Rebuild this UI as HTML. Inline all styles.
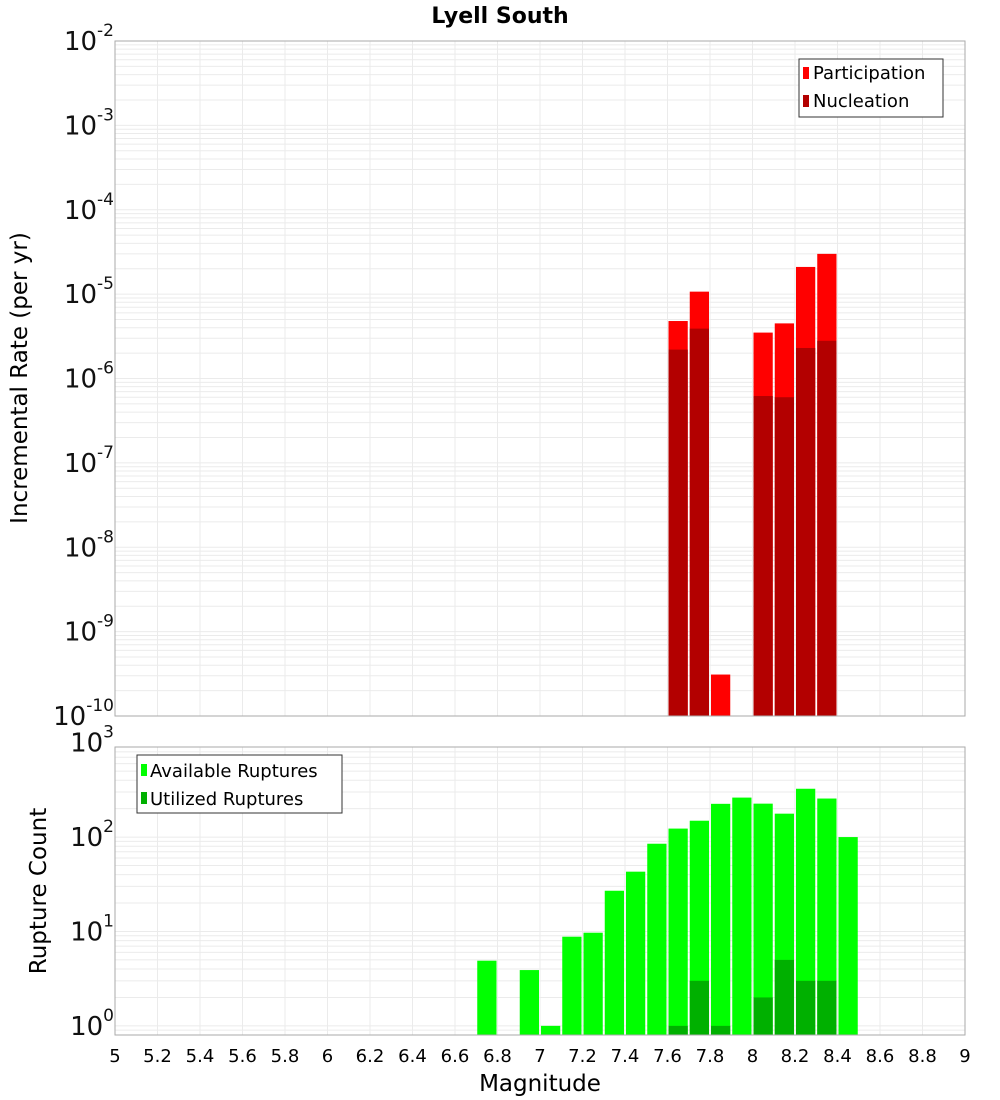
<!DOCTYPE html>
<html><head><meta charset="utf-8"><style>
body{margin:0;background:#fff;font-family:"Liberation Sans","DejaVu Sans",sans-serif}
svg{display:block}
</style></head><body>
<svg id="c" width="1000" height="1100" xmlns="http://www.w3.org/2000/svg" font-family="DejaVu Sans, Liberation Sans, sans-serif"></svg>
<script>
const bins=[6.75,6.85,6.95,7.05,7.15,7.25,7.35,7.45,7.55,7.65,7.75,7.85,7.95,8.05,8.15,8.25,8.35,8.45];
const participation=[0,0,0,0,0,0,0,0,0,4.8e-6,1.07e-5,3.1e-10,0,3.5e-6,4.5e-6,2.1e-5,3.0e-5,0];
const nucleation=[0,0,0,0,0,0,0,0,0,2.2e-6,3.9e-6,0,0,6.2e-7,6.0e-7,2.3e-6,2.8e-6,0];
const available=[4.9,0,3.9,1,8.8,9.7,27,43,85,123,149,225,262,226,177,325,256,100];
const utilized=[0,0,0,0,0,0,0,0,0,1,3,1,0,2,5,3,3,0];
const xTicks=[5,5.2,5.4,5.6,5.8,6,6.2,6.4,6.6,6.8,7,7.2,7.4,7.6,7.8,8,8.2,8.4,8.6,8.8,9];
const topExp=[-2,-3,-4,-5,-6,-7,-8,-9,-10];
const botExp=[3,2,1,0];

const NS="http://www.w3.org/2000/svg";
const svg=document.getElementById('c');
function mk(t,a,p){const e=document.createElementNS(NS,t);for(const k in a)e.setAttribute(k,a[k]);(p||svg).appendChild(e);return e;}
const X0=115,X1=965;
const xs=m=>X0+(m-5)/4*(X1-X0);
const T={y0:41,y1:716,lmax:-2,lmin:-10};
const B={y0:747,y1:1035,lmax:Math.log10(900),lmin:Math.log10(0.8)};
const ys=(P,v)=>P.y0+(P.lmax-Math.log10(v))/(P.lmax-P.lmin)*(P.y1-P.y0);

function grid(P,name){
  const g=mk('g',{});
  
  
  for(let d=Math.floor(P.lmin);d<=Math.ceil(P.lmax);d++)for(let k=1;k<10;k++){
    const v=k*Math.pow(10,d);const l=Math.log10(v);
    if(l<P.lmin||l>P.lmax)continue;const y=ys(P,v);
    mk('line',{x1:X0,x2:X1,y1:y,y2:y,stroke:'#ebebeb','stroke-width':1},g);
  }
  xTicks.forEach(t=>{const x=xs(t);mk('line',{x1:x,x2:x,y1:P.y0,y2:P.y1,stroke:'#ebebeb','stroke-width':1},g);});
}
function frame(P,name){
  const r=mk('rect',{x:X0,y:P.y0,width:X1-X0,height:P.y1-P.y0,fill:'none',stroke:'#aaa','stroke-width':1});
  
  
}
function bars(P,vals,color,name){
  const g=mk('g',{});
  
  
  vals.forEach((v,i)=>{if(!v)return;
    const xa=xs(bins[i]-0.05)+1,xb=xs(bins[i]+0.05)-1;const y=Math.max(ys(P,v),P.y0);
    const r=mk('rect',{x:xa,y:y,width:xb-xa,height:P.y1-y,fill:color},g);
    
    
  });
}
grid(T,'top');grid(B,'bottom');
bars(T,participation,'#ff0000','participation');
bars(T,nucleation,'#b30000','nucleation');
bars(B,available,'#00ff00','available');
bars(B,utilized,'#00b000','utilized');
frame(T,'top');frame(B,'bottom');

function ylab(P,e,name){
  const y=ys(P,Math.pow(10,e));
  const t=mk('text',{x:114,y:y+9,'text-anchor':'end','font-size':26,fill:'#111'});
  
  
  const a=mk('tspan',{},t);a.textContent='10';
  const b=mk('tspan',{dy:-14,'font-size':17},t);b.textContent=String(e);
}
topExp.forEach(e=>ylab(T,e,'y-tick-top'));
botExp.forEach(e=>ylab(B,e,'y-tick-bottom'));
xTicks.forEach(t=>{const e=mk('text',{x:xs(t),y:1062,'text-anchor':'middle','font-size':18,fill:'#000'});
  
  
  e.textContent=String(t);});
</script>
<div style="position:absolute;left:0;top:0;width:1000px;height:1100px;pointer-events:none">
<svg width="1000" height="1100" xmlns="http://www.w3.org/2000/svg" font-family="DejaVu Sans, Liberation Sans, sans-serif">
<text x="500" y="23" text-anchor="middle" font-size="22" font-weight="bold">Lyell South</text>
<text transform="translate(27,378) rotate(-90)" text-anchor="middle" font-size="23">Incremental Rate (per yr)</text>
<text transform="translate(46,891) rotate(-90)" text-anchor="middle" font-size="23">Rupture Count</text>
<text x="540" y="1091" text-anchor="middle" font-size="23">Magnitude</text>
<g>
<rect x="799" y="59" width="144" height="58" fill="#fff" stroke="#333"/>
<rect x="803" y="67" width="6" height="12" fill="#ff0000"/>
<text x="813" y="79" font-size="18">Participation</text>
<rect x="803" y="95" width="6" height="12" fill="#b30000"/>
<text x="813" y="107" font-size="18">Nucleation</text>
</g>
<g>
<rect x="137" y="755" width="205" height="58" fill="#fff" stroke="#333"/>
<rect x="141" y="764" width="6" height="12" fill="#00ff00"/>
<text x="150" y="777" font-size="18">Available Ruptures</text>
<rect x="141" y="792" width="6" height="12" fill="#00b000"/>
<text x="150" y="805" font-size="18">Utilized Ruptures</text>
</g>
</svg></div>
</body></html>
